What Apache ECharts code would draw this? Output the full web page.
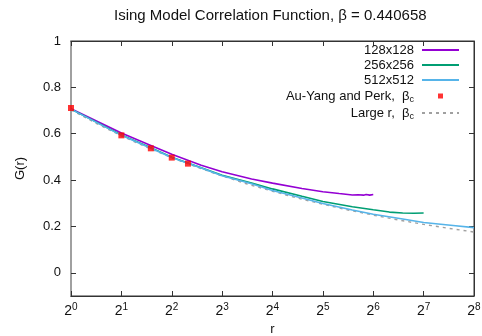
<!DOCTYPE html>
<html>
<head>
<meta charset="utf-8">
<script src="https://cdn.jsdelivr.net/npm/echarts@6/dist/echarts.min.js"></script>
<style>
  html, body { margin: 0; padding: 0; background: #fff; }
  #chart { width: 482px; height: 336px; }
</style>
</head>
<body>
<div id="chart"></div>
<script>
// r values and G(r)
const r128 = [1, 2, 3, 4, 6, 8, 12, 16, 24, 32, 40, 48, 52, 56, 58, 61, 64];
const g128 = [0.708, 0.603, 0.549, 0.511, 0.464, 0.436, 0.405, 0.387, 0.364, 0.350, 0.342, 0.336, 0.337, 0.335, 0.338, 0.335, 0.338];

const r256 = [1, 2, 3, 4, 6, 8, 12, 16, 24, 32, 48, 64, 80, 96, 112, 128];
const g256 = [0.706, 0.595, 0.540, 0.499, 0.453, 0.421, 0.387, 0.362, 0.330, 0.308, 0.285, 0.272, 0.262, 0.258, 0.257, 0.258];

const r512 = [1, 2, 3, 4, 6, 8, 12, 16, 24, 32, 48, 64, 96, 128, 192, 256];
const g512 = [0.706, 0.593, 0.537, 0.497, 0.452, 0.419, 0.384, 0.355, 0.323, 0.299, 0.271, 0.253, 0.232, 0.217, 0.204, 0.195];

const rExact = [1, 2, 3, 4, 5];
const gExact = [0.711, 0.593, 0.537, 0.497, 0.471];

const rLarge = [1, 1.414, 2, 2.828, 4, 5.657, 8, 11.31, 16, 22.63, 32, 45.25, 64, 90.51, 128, 181.0, 256];
const gLarge = [0.703, 0.645, 0.591, 0.542, 0.497, 0.456, 0.418, 0.383, 0.352, 0.322, 0.296, 0.271, 0.249, 0.228, 0.209, 0.192, 0.176];

const xTicks = [0, 1, 2, 3, 4, 5, 6, 7, 8]; // powers of 2 shown on the r axis
const yTicks = [0, 0.2, 0.4, 0.6, 0.8, 1];

const zip = (xs, ys) => xs.map((x, i) => [x, ys[i]]);

const FONT = 'Liberation Sans, Arial, sans-serif';
const noDot = { opacity: 0 };

const chart = echarts.init(document.getElementById('chart'));

const option = {
  animation: false,
  textStyle: { fontFamily: FONT },
  title: {
    text: 'Ising Model Correlation Function, β = 0.440658',
    left: 114,
    top: 8,
    padding: 0,
    textAlign: 'left',
    textStyle: { fontFamily: FONT, fontSize: 15, fontWeight: 'normal', color: '#111' }
  },
  grid: {
    left: 71, right: 8, top: 41, bottom: 40,
    outerBoundsMode: 'none',
    show: true, borderColor: '#333', borderWidth: 1
  },
  legend: {
    orient: 'vertical',
    align: 'right',
    right: 17,
    top: 38,
    itemWidth: 37,
    itemHeight: 10,
    itemGap: 1,
    textStyle: {
      fontFamily: FONT, fontSize: 13, color: '#111', lineHeight: 14, padding: [0, 3, 0, 0],
      rich: { sub: { fontSize: 9, verticalAlign: 'bottom', lineHeight: 16 } }
    },
    formatter: (name) => name.replace('βc', 'β{sub|c}'),
    data: [
      { name: '128x128', itemStyle: noDot },
      { name: '256x256', itemStyle: noDot },
      { name: '512x512', itemStyle: noDot },
      { name: 'Au-Yang and Perk,  βc', icon: 'path://M0,0L0,0M37,10L37,10M16,2.5L21,2.5L21,7.5L16,7.5Z' },
      { name: 'Large r,  βc', itemStyle: noDot }
    ]
  },
  xAxis: [
    {
      type: 'log', logBase: 2, min: 1, max: 256, splitNumber: 8,
      name: 'r', nameLocation: 'middle', nameGap: 21,
      nameTextStyle: { fontFamily: FONT, fontSize: 13, color: '#111' },
      axisLine: { show: true, onZero: false, lineStyle: { color: '#333', width: 1 } },
      axisTick: { show: true, inside: true, length: 5, lineStyle: { color: '#333' } },
      splitLine: { show: false },
      minorTick: { show: false },
      axisLabel: {
        margin: 6, color: '#111', fontFamily: FONT, fontSize: 14,
        formatter: (v) => {
          const k = Math.round(Math.log2(v));
          return xTicks.includes(k) ? '2{sup|' + k + '}' : '';
        },
        rich: { sup: { fontSize: 10, verticalAlign: 'top', lineHeight: 18 } }
      }
    },
    {
      type: 'log', logBase: 2, min: 1, max: 256, splitNumber: 8, position: 'top',
      axisLine: { show: true, onZero: false, lineStyle: { color: '#333', width: 1 } },
      axisTick: { show: true, inside: true, length: 5, lineStyle: { color: '#333' } },
      axisLabel: { show: false },
      splitLine: { show: false }
    }
  ],
  yAxis: [
    {
      type: 'value', min: -0.1, max: 1, splitNumber: 5,
      name: 'G(r)', nameLocation: 'middle', nameGap: 44, nameRotate: 90,
      nameTextStyle: { fontFamily: FONT, fontSize: 13, color: '#111' },
      axisLine: { show: true, onZero: false, lineStyle: { color: '#a0a0a0', width: 2 } },
      axisTick: { show: true, inside: true, length: 5, lineStyle: { color: '#333' } },
      splitLine: { show: false },
      axisLabel: {
        margin: 10, color: '#111', fontFamily: FONT, fontSize: 13,
        formatter: (v) => {
          const t = yTicks.find((y) => Math.abs(y - v) < 1e-6);
          return t === undefined ? '' : String(t);
        }
      }
    },
    {
      type: 'value', min: -0.1, max: 1, splitNumber: 5, position: 'right',
      axisLine: { show: true, onZero: false, lineStyle: { color: '#333', width: 1 } },
      axisTick: { show: true, inside: true, length: 5, lineStyle: { color: '#333' } },
      axisLabel: { show: false },
      splitLine: { show: false }
    }
  ],
  series: [
    {
      name: '128x128', type: 'line', symbol: 'none', z: 3,
      lineStyle: { color: '#9400d3', width: 1.6 }, itemStyle: { color: '#9400d3' },
      data: zip(r128, g128)
    },
    {
      name: '256x256', type: 'line', symbol: 'none', z: 3,
      lineStyle: { color: '#009e73', width: 1.6 }, itemStyle: { color: '#009e73' },
      data: zip(r256, g256)
    },
    {
      name: '512x512', type: 'line', symbol: 'none', z: 3,
      lineStyle: { color: '#56b4e9', width: 1.6 }, itemStyle: { color: '#56b4e9' },
      data: zip(r512, g512)
    },
    {
      name: 'Au-Yang and Perk,  βc', type: 'scatter', symbol: 'rect', symbolSize: 6, z: 5,
      itemStyle: { color: '#ff0000' },
      data: zip(rExact, gExact)
    },
    {
      name: 'Large r,  βc', type: 'line', symbol: 'none', z: 2,
      lineStyle: { color: '#a0a0a0', width: 1.4, type: [3, 4] }, itemStyle: { color: '#a0a0a0' },
      data: zip(rLarge, gLarge)
    }
  ]
};

chart.setOption(option);
</script>
</body>
</html>
